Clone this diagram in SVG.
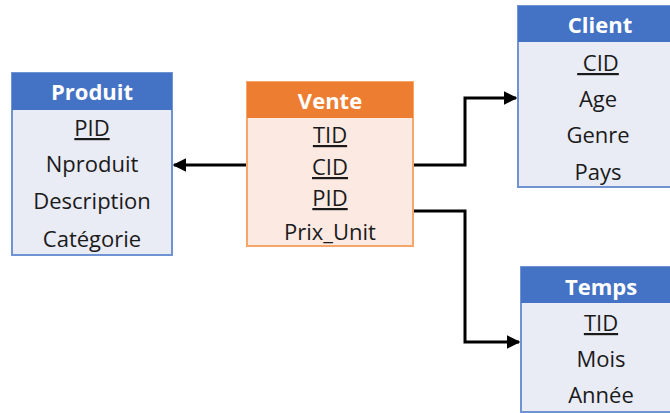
<svg xmlns="http://www.w3.org/2000/svg" width="670" height="413" viewBox="0 0 670 413">
<style>
.hb{fill:#4472C4}
.bb{fill:#E9EBF5;stroke:#6F93D3;stroke-width:2}
.ho{fill:#ED7D31}
.bo{fill:#FBE9E2;stroke:#F4A66B;stroke-width:2}
.t{font-family:"Open Sans","Liberation Sans",sans-serif;font-size:22px;fill:#1a1a1a;text-anchor:middle}
.h{font-family:"Open Sans","Liberation Sans",sans-serif;font-size:22px;font-weight:bold;fill:#fff;text-anchor:middle}
.u{text-decoration:underline}
.c{fill:none;stroke:#000;stroke-width:3}
</style>
<defs>
<marker id="a" viewBox="0 0 10 10" refX="9" refY="5" markerWidth="4.5" markerHeight="4.5" orient="auto" markerUnits="strokeWidth">
<path d="M0,0 L10,5 L0,10 z" fill="#000"/>
</marker>
</defs>
<g id="connectors">
<path class="c" d="M246,165 H174" marker-end="url(#a)"/>
<path class="c" d="M413,165 H465 V98 H516" marker-end="url(#a)"/>
<path class="c" d="M413,211 H465 V342 H519" marker-end="url(#a)"/>
</g>
<g id="produit">
<rect class="bb" x="12" y="73" width="160" height="182"/>
<rect class="hb" x="12" y="73" width="160" height="37"/>
<text class="h" x="92" y="100">Produit</text>
<text class="t u" x="92" y="136">PID</text>
<text class="t" x="92" y="172">Nproduit</text>
<text class="t" x="92" y="209">Description</text>
<text class="t" x="92" y="247">Catégorie</text>
</g>
<g id="vente">
<rect class="bo" x="247" y="82" width="166" height="164"/>
<rect class="ho" x="247" y="82" width="166" height="36"/>
<text class="h" x="330" y="109">Vente</text>
<text class="t u" x="330" y="143">TID</text>
<text class="t u" x="330" y="175">CID</text>
<text class="t u" x="330" y="206">PID</text>
<text class="t" x="330" y="240">Prix_Unit</text>
</g>
<g id="client">
<rect class="bb" x="518" y="6" width="160" height="181"/>
<rect class="hb" x="518" y="6" width="160" height="36"/>
<text class="h" x="600" y="33">Client</text>
<text class="t u" x="598" y="71" xml:space="preserve"> CID</text>
<text class="t" x="598" y="107">Age</text>
<text class="t" x="598" y="143">Genre</text>
<text class="t" x="598" y="180">Pays</text>
</g>
<g id="temps">
<rect class="bb" x="521" y="267" width="160" height="145"/>
<rect class="hb" x="521" y="267" width="160" height="36"/>
<text class="h" x="601" y="295">Temps</text>
<text class="t u" x="601" y="331">TID</text>
<text class="t" x="601" y="367">Mois</text>
<text class="t" x="601" y="403">Année</text>
</g>
</svg>
